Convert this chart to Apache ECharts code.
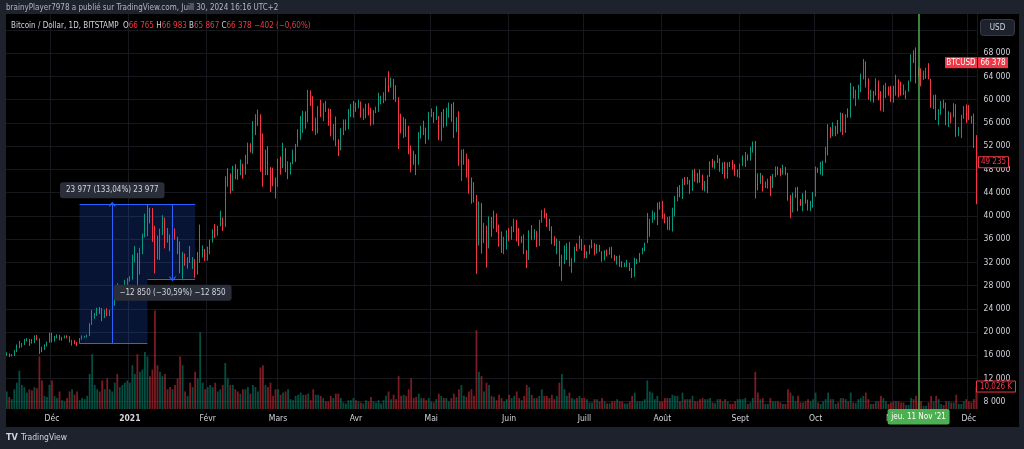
<!DOCTYPE html>
<html>
<head>
<meta charset="utf-8">
<title>BTCUSD 1D - BITSTAMP</title>
<script src="https://cdn.jsdelivr.net/npm/echarts@6/dist/echarts.min.js"></script>
<style>
	html, body { margin: 0; padding: 0; background: #1e222d; }
	#main { width: 1024px; height: 449px; }
</style>
</head>
<body>
<div id="main"></div>
<script>
// daily candles from 2020-11-13 to 2021-12-04, prices in thousands of USD
var firstDay = Date.UTC(2020, 10, 13);
var firstOpenK = 16.3;
var closeK = [
	16.3,15.96,15.96,16.72,17.66,17.8,17.82,18.68,18.72,18.42,18.37,19.16,18.73,17.15,17.14,17.73,18.18,19.7,
	18.79,19.22,19.45,18.7,19.15,19.36,19.17,18.32,18.55,18.25,18.03,18.8,19.17,19.27,19.43,21.36,22.8,23.13,23.85,23.48,22.72,23.82,23.25,23.72,24.7,26.48,26.28,27.08,27.37,28.88,28.99,
	29.4,32.2,33.0,31.97,33.99,36.82,39.45,40.67,40.24,38.24,35.54,34.01,37.39,39.15,36.82,36.03,35.79,36.63,36.07,35.55,30.82,33.0,32.09,32.29,32.26,32.5,30.4,33.43,34.3,34.3,33.12,
	33.54,35.52,37.67,36.94,38.3,39.24,38.9,46.4,46.49,44.85,47.99,47.4,47.19,48.72,47.97,49.16,52.15,51.6,55.9,55.9,57.5,54.2,48.9,49.7,47.1,46.3,46.2,45.2,
	49.6,48.4,50.5,48.4,48.8,48.9,51.2,52.4,54.9,55.9,57.8,57.2,61.2,59.0,55.6,56.9,58.9,57.6,58.3,58.1,57.4,54.1,54.3,52.3,51.3,55.0,55.8,55.8,57.6,58.8,58.8,
	58.7,59.0,57.1,58.2,59.1,58.0,56.0,58.1,58.1,59.8,59.8,59.9,63.5,62.9,63.2,61.4,60.0,56.2,55.7,56.5,53.8,51.7,51.1,50.1,49.1,54.0,55.0,54.8,53.6,57.7,
	57.8,56.6,57.2,53.2,57.5,56.4,57.4,58.9,58.3,55.9,56.8,49.5,49.7,49.9,46.7,46.4,43.6,42.9,36.7,40.6,37.3,37.5,34.7,38.8,38.3,39.3,38.4,35.7,34.6,35.7,37.3,
	36.7,37.6,39.2,36.9,35.5,35.8,33.6,33.4,37.4,36.7,37.3,35.5,39.0,40.5,40.2,38.3,38.1,35.8,35.5,35.6,31.6,32.5,33.7,34.7,31.6,32.2,34.7,34.5,35.9,35.0,
	33.5,33.8,34.7,35.3,33.7,34.2,33.9,32.9,33.8,33.5,34.3,33.1,32.7,32.8,31.8,31.4,31.5,31.8,30.8,29.8,32.1,32.3,33.6,34.3,35.4,37.3,39.5,40.0,40.0,42.2,41.5,
	39.9,39.2,38.2,39.7,40.9,42.8,44.6,43.8,46.3,45.6,45.6,44.4,47.8,47.1,47.0,45.9,44.7,44.7,46.8,49.3,48.9,49.3,49.5,47.7,48.9,47.0,49.0,48.9,48.8,47.0,47.1,
	48.8,49.3,50.0,49.9,51.7,52.7,46.9,46.1,46.4,44.9,45.2,46.1,44.9,47.1,48.2,47.8,47.3,48.3,47.3,43.0,40.7,43.6,44.9,42.9,42.7,43.2,42.2,41.0,41.5,43.8,
	48.1,47.7,48.2,49.2,51.5,55.3,53.8,53.9,55.0,54.7,57.5,56.0,57.4,57.3,61.7,60.9,61.5,62.0,64.3,66.0,62.2,60.7,61.3,60.9,63.1,60.3,58.4,60.6,62.3,61.8,61.3,
	61.0,63.2,62.9,61.4,61.0,61.5,63.3,67.5,66.9,64.9,64.8,64.1,64.4,65.5,63.6,60.1,60.4,56.9,58.1,59.7,58.7,56.3,57.6,57.2,58.9,53.7,54.7,57.3,57.8,57.0,
	56.9,56.5,53.6,49.235
];
var highK = [
	16.5,16.3,16.2,16.88,17.85,18.48,18.12,18.8,18.95,18.8,18.77,19.42,19.5,18.9,17.45,17.88,18.35,19.86,
	19.9,19.3,19.6,19.5,19.18,19.4,19.42,19.29,18.64,18.58,18.28,18.95,19.4,19.33,19.55,21.5,23.77,23.28,24.18,24.3,24.1,23.84,24.1,23.78,24.78,26.87,28.4,27.4,27.4,28.99,29.3,
	29.6,33.3,34.8,33.6,34.5,36.95,40.37,42.0,41.4,41.35,38.3,36.6,37.8,40.1,39.7,37.9,36.8,37.3,37.85,36.4,35.6,33.8,33.5,32.9,34.8,32.9,32.55,33.8,38.5,34.9,34.3,
	34.7,35.9,37.7,38.6,38.3,40.9,39.7,46.8,48.2,47.3,48.6,48.9,48.1,49.7,49.0,50.5,52.6,52.5,56.3,57.5,58.3,57.5,54.2,51.4,52.0,48.4,48.3,46.6,
	49.8,50.2,52.6,51.7,49.4,49.2,51.4,52.4,54.9,57.2,58.1,58.0,61.7,61.6,60.6,56.9,58.9,60.0,59.4,59.8,58.5,58.4,55.8,57.1,53.2,55.1,56.6,56.6,58.4,59.3,59.8,
	59.5,60.0,59.7,58.5,59.3,59.4,58.6,58.2,58.8,61.2,60.7,61.3,63.8,64.9,63.8,63.6,62.5,60.4,57.6,57.0,56.7,55.5,52.1,51.2,50.6,54.4,55.5,56.4,55.2,57.9,
	58.5,57.9,58.9,57.2,57.9,58.4,58.6,59.5,59.3,59.6,57.0,58.0,51.4,51.5,50.7,49.8,46.6,45.8,43.6,42.5,42.2,38.8,38.3,39.9,39.8,40.9,40.4,38.5,37.3,36.4,37.5,
	37.9,38.2,39.5,39.3,37.9,36.5,36.8,34.1,37.5,38.4,37.7,37.4,39.3,41.0,41.3,40.5,39.5,38.2,36.5,36.1,35.7,33.3,34.9,35.3,35.5,32.7,34.7,35.3,36.6,36.0,
	35.0,33.9,35.0,35.9,35.3,35.1,35.0,33.9,34.1,34.2,34.6,34.7,33.3,33.1,33.2,32.2,31.9,32.4,31.9,31.0,32.8,32.6,33.6,34.5,35.4,40.5,39.5,40.9,40.6,42.3,42.4,
	42.6,40.4,39.8,39.9,41.4,43.4,45.0,45.3,46.4,46.7,46.7,46.2,47.9,48.1,47.4,48.0,47.1,46.0,47.0,49.4,49.8,49.5,50.5,49.9,49.2,49.3,49.2,49.3,49.6,48.9,48.0,
	49.0,50.4,51.0,50.6,51.9,52.8,52.9,47.3,47.4,47.0,45.9,46.4,46.9,47.2,48.5,48.5,48.2,48.8,48.4,47.4,43.6,44.0,44.9,45.0,42.9,43.9,44.4,42.8,42.6,44.1,
	48.5,48.3,49.3,49.5,51.9,55.8,55.3,56.1,55.5,56.5,57.8,57.7,57.5,58.5,62.9,62.3,61.7,62.6,64.5,67.0,66.6,63.7,61.7,61.5,63.7,63.3,61.5,62.5,62.9,62.3,62.4,
	62.4,64.3,63.5,63.1,62.6,61.6,63.3,67.8,68.5,69.0,65.6,65.4,65.0,65.5,66.3,63.6,60.8,60.9,58.4,59.8,60.0,59.5,58.0,57.8,59.4,59.2,55.3,57.4,58.9,59.2,
	59.1,57.2,57.6,53.9
];
var lowK = [
	15.9,15.7,15.8,15.87,16.55,17.2,17.34,17.75,18.4,17.6,18.0,18.07,18.57,16.2,16.5,16.9,17.52,18.17,
	18.2,18.33,18.9,18.57,18.5,18.9,18.9,18.2,17.65,17.9,17.57,18.0,18.7,19.0,19.05,19.28,21.23,22.3,22.77,23.1,21.85,22.4,22.7,22.75,23.45,24.5,25.85,26.1,25.9,27.32,28.0,
	28.7,29.0,32.0,28.0,29.9,33.4,36.3,36.5,38.7,35.5,30.1,32.5,32.4,36.7,34.4,35.4,33.9,34.8,35.9,33.4,30.1,29.15,31.4,30.9,31.9,30.85,29.3,29.9,31.9,32.8,32.2,
	32.3,33.4,35.4,36.2,36.6,38.2,37.4,38.1,45.0,43.8,44.3,46.3,46.2,47.0,46.4,47.1,48.9,50.9,50.7,53.9,55.5,47.6,45.0,47.0,47.0,44.1,45.1,43.0,
	45.0,47.1,48.2,47.5,46.3,47.1,48.9,49.3,51.9,53.1,54.3,55.0,56.1,58.9,54.6,53.9,54.2,57.0,56.3,57.9,55.5,53.7,53.0,52.0,50.3,51.3,53.9,54.7,54.9,57.0,56.9,
	57.9,58.5,56.9,56.5,56.8,57.3,55.5,55.7,57.7,57.9,59.2,59.4,59.8,61.3,62.1,60.0,59.6,51.5,54.2,53.4,53.6,50.6,47.5,48.8,47.0,48.8,53.3,53.9,52.4,53.1,
	57.0,56.0,56.5,53.0,52.9,55.2,55.4,56.9,56.2,53.4,54.4,48.6,46.0,48.8,46.6,43.8,42.1,42.3,30.0,34.9,33.5,35.3,31.1,34.4,36.4,37.8,37.2,34.7,33.6,33.4,34.2,
	35.7,35.9,37.2,35.6,34.8,35.3,33.4,31.0,32.4,35.8,35.9,34.6,34.8,38.8,39.6,38.1,37.4,35.1,34.8,33.4,31.3,28.8,31.7,32.4,31.3,30.2,32.0,33.9,34.3,34.0,
	32.7,32.7,33.4,34.4,33.2,33.5,33.8,32.1,32.3,33.0,33.3,32.7,32.2,31.6,31.2,31.1,31.2,31.2,30.5,29.3,29.5,31.7,32.0,33.4,33.9,35.3,36.4,38.8,39.3,38.4,41.1,
	39.5,38.7,37.6,37.5,37.3,39.9,42.5,43.2,42.9,45.3,45.4,43.8,44.3,45.9,45.6,45.7,44.4,44.2,43.9,46.7,48.3,48.1,49.1,47.6,47.2,46.4,46.4,48.4,48.0,46.9,46.7,
	46.5,48.6,48.4,49.5,49.5,50.9,43.0,44.4,45.5,44.2,44.8,44.7,43.4,44.8,46.7,47.0,46.8,47.1,47.0,42.6,39.6,40.6,43.1,40.8,41.7,40.8,42.1,40.9,40.8,41.4,
	43.3,47.4,47.1,46.9,49.1,50.4,53.4,53.7,53.7,54.1,54.4,53.9,54.3,56.9,56.9,60.2,58.9,60.1,61.3,63.5,62.1,60.0,59.7,59.5,60.7,59.9,58.1,57.9,60.3,60.7,59.6,
	59.5,60.7,60.4,60.7,60.8,60.1,61.4,63.1,66.3,62.8,64.1,62.3,63.4,63.6,63.5,58.6,58.4,56.5,55.6,57.4,58.5,55.6,55.3,55.9,57.0,53.6,53.7,53.4,56.7,56.0,
	56.5,55.9,51.7,42.0
];
// volume, thousands of BTC
var volK = [
	8.0,5.5,4.5,9.0,12.0,17.5,11.0,10.0,7.5,9.0,8.5,10.0,9.5,24.0,13.0,6.0,5.5,11.0,
	13,6,5,8,4,3.5,5,8,9,6.5,8,4,5,4.5,6,16,25,11,9,8,13,9,14,9,8,12,16,10,11,12,13,
	12,20,16,25,17,18,26,24,15,18,45,20,17,15,16,9,10,9,11,14,24,20,8,6,12,10,17,14,35,12,9,
	10,11,10,12,8,9,11,21,14,11,11,9,8,7,9,9,10,7,11,10,8,19,20,11,10,12,6,9,
	9,6.5,7.5,8,9,4.5,4,6,6.5,7.5,6.5,6.5,7,4,9,6.5,6.5,6,5,3.5,3.5,6,5,7,7,5,3,2.5,4,4,5,
	4,3.5,3,2.5,4,3.5,5.5,3.5,3,4,2.5,4,6,8,4.5,6.5,4.5,15,6,6.5,6,9,14,5,5.5,7,5,5,4,5,
	3.5,3,4.5,7,6,5,5,3.5,5,7,5.5,9,11,6,5.5,8,9,6,36,17,15,8,12,11,6,5.5,4,6.5,5,3.5,4.5,
	6.5,5,6,8,5,4,6,11,10,6.5,5,5,6,9,6,6,5,6.5,4.5,6,12,16,9,6,7.5,5,4.5,5,6,5,
	5,4.5,3,3,4.5,4.5,3.5,5,3.5,2.5,2.5,3.5,3.5,4.5,3.5,3.5,2.5,2.5,3.5,6,7.5,3.5,3.5,3.5,4.5,13,8,7.5,4.5,6,3.5,
	3.5,5,5,5,6.5,6,6,3.5,7.5,4.5,4.5,4.5,6,3.5,3.5,4.5,5,4.5,4.5,5,3,2.7,4.5,4.5,3.5,4.5,3.5,2.3,2.3,3.5,4.5,
	4.5,4.5,5,2.3,3,5,17,7.5,4.5,5,2.3,2.3,5,3.5,3.5,3.5,3,2.3,2.3,9,7.5,6,3.5,6,3,3,3.5,4.5,3.5,4.5,
	7.5,3,2.3,3.5,4.5,7.5,4.5,4.5,2.3,3,5,5,4.5,3.5,7.5,3,2.7,4.5,5,6,7.5,4.5,2.3,2.3,3.5,3.5,6,5,3.5,2.3,3,
	3.5,3.5,3.5,3,3,1.8,1.8,5,4.5,6,3,3.5,1.5,1.5,3,6,3.5,6,4.5,2.3,1.8,3.5,3.5,3,3,6.5,2.3,2.3,3.5,4.5,
	3.5,3,4.5,10.026
];

var monthNames = ['Janv', 'Févr', 'Mars', 'Avr', 'Mai', 'Juin', 'Juill', 'Août', 'Sept', 'Oct', 'Nov', 'Déc'];

// measure tool: box edges (dates), prices [base, peak, trough]
var boxDates = ['2020-12-12', '2021-01-08', '2021-01-27'];
var boxPrices = [18023, 42000, 29150];
var arrowDates = ['2020-12-25', '2021-01-18'];
var boxLabels = ['23 977 (133,04%) 23 977', '\u221212 850 (\u221230,59%) \u221212 850'];

// crosshair and header values
var crossDate = '2021-11-11';
var crossLabel = "jeu. 11 Nov '21";
var legendOHLC = [66765, 66983, 65867, 66378];
var legendChange = '\u2212402 (\u22120,60%)';
var lastClose = 49235;
var lastVolK = 10.026;

var FONT = "'Liberation Sans Narrow', 'DejaVu Sans Condensed', Roboto, sans-serif";
var UP = '#089981', DOWN = '#f23645';
var FRAME = '#1e222d', TXT = '#d1d4dc', GRIDC = '#16181d';

function fmt(v) {
	return String(Math.round(v)).replace(/\B(?=(\d{3})+(?!\d))/g, ' ');
}

function isMonthStart(idx, val) {
	return val.slice(8) === '01';
}

var chart;

function init() {
	chart = echarts.init(document.getElementById('main'));
	var built = buildData();
	chart.setOption(buildOption(built));
	addOverlays();
}

// dates, candles, volume bars
function buildData() {
	var dates = [], candles = [], volumes = [];
	for (var i = 0; i < closeK.length; i++) {
		dates.push(new Date(firstDay + i * 864e5).toISOString().slice(0, 10));
		// 24/7 market: each day opens at the previous close
		var o = i === 0 ? firstOpenK : closeK[i - 1];
		candles.push([o * 1000, closeK[i] * 1000, lowK[i] * 1000, highK[i] * 1000]);
		volumes.push({
			value: volK[i],
			itemStyle: { color: closeK[i] >= o ? 'rgba(8,153,129,0.5)' : 'rgba(242,54,69,0.5)' }
		});
	}
	return { dates: dates, candles: candles, volumes: volumes };
}

function buildOption(b) {
	var lbl = function(text) {
		return {
			show: true, position: 'end', formatter: text, distance: 6,
			color: TXT, fontSize: 8, fontFamily: FONT,
			backgroundColor: '#2a2e39', padding: [4, 6], borderRadius: 3
		};
	};
	var chevron = 'path://M4,0 L8,6 L7,7 L4,2.6 L1,7 L0,6 Z';
	var rangeLine = { color: '#2962ff', width: 1, type: 'solid' };

	return {
		animation: false,
		backgroundColor: '#000',
		textStyle: { fontFamily: FONT },
		title: {
			left: 11, top: 21.5, padding: 0,
			text: '{t|Bitcoin / Dollar, 1D, BITSTAMP}  {k|O}{v|' + fmt(legendOHLC[0]) + '} {k|H}{v|' + fmt(legendOHLC[1]) +
				'} {k|B}{v|' + fmt(legendOHLC[2]) + '} {k|C}{v|' + fmt(legendOHLC[3]) + '} {v|' + legendChange + '}',
			textStyle: {
				fontSize: 8, fontWeight: 'normal',
				rich: {
					t: { color: TXT, fontSize: 8, fontFamily: FONT },
					k: { color: TXT, fontSize: 8, fontFamily: FONT },
					v: { color: DOWN, fontSize: 8, fontFamily: FONT }
				}
			}
		},
		grid: [
			{ left: 5.5, right: 46.4, top: 6.8, bottom: 24.1 },
			{ left: 5.5, right: 46.4, top: 309, bottom: 40 }
		],
		xAxis: [{
			type: 'category', data: b.dates, gridIndex: 0,
			axisLine: { show: false }, axisTick: { show: false }, axisLabel: { show: false },
			splitLine: { show: true, interval: isMonthStart, lineStyle: { color: GRIDC, width: 1 } }
		}, {
			type: 'category', data: b.dates, gridIndex: 1, z: 60,
			axisLine: { show: false }, axisTick: { show: false },
			axisLabel: {
				interval: isMonthStart, margin: 5, color: TXT, fontSize: 8.5,
				formatter: function(v) {
					var m = +v.slice(5, 7);
					return m === 1 ? '{y|' + v.slice(0, 4) + '}' : monthNames[m - 1];
				},
				rich: { y: { fontWeight: 'bold', color: TXT, fontSize: 8.5, fontFamily: FONT } }
			},
			splitLine: { show: false }
		}],
		yAxis: [{
			type: 'value', gridIndex: 0, position: 'right',
			min: 4000, max: 76000, interval: 4000,
			axisLine: { show: false }, axisTick: { show: false },
			axisLabel: {
				color: TXT, fontSize: 8.5, margin: 6,
				formatter: function(v) {
					return (v <= 4000 || v >= 72000) ? '' : fmt(v);
				}
			},
			splitLine: { show: true, showMinLine: false, showMaxLine: false, lineStyle: { color: GRIDC, width: 1 } }
		}, {
			type: 'value', gridIndex: 1, min: 0, max: 45.66, show: false,
			splitLine: { show: false }
		}],
		series: [{
			name: 'Volume', type: 'bar', xAxisIndex: 1, yAxisIndex: 1, z: 1,
			barWidth: '72%', data: b.volumes
		}, {
			name: 'BTCUSD', type: 'candlestick', xAxisIndex: 0, yAxisIndex: 0, z: 3,
			barWidth: 1.2, data: b.candles,
			itemStyle: { color: UP, color0: DOWN, borderColor: UP, borderColor0: DOWN, borderWidth: 1 },
			markLine: {
				silent: true, symbol: 'none', symbolSize: [7, 5],
				label: { show: false },
				lineStyle: rangeLine,
				data: [
					[{ coord: [boxDates[0], boxPrices[1]] }, { coord: [boxDates[2], boxPrices[1]] }],
					[{ coord: [boxDates[0], boxPrices[0]] }, { coord: [boxDates[1], boxPrices[0]] }],
					[{ coord: [boxDates[1], boxPrices[2]] }, { coord: [boxDates[2], boxPrices[2]] }],
					[{ coord: [arrowDates[0], boxPrices[0]], label: lbl(boxLabels[0]) },
						{ coord: [arrowDates[0], boxPrices[1]], symbol: chevron }],
					[{ coord: [arrowDates[1], boxPrices[1]], label: lbl(boxLabels[1]) },
						{ coord: [arrowDates[1], boxPrices[2]], symbol: chevron }],
					{ xAxis: crossDate, lineStyle: { color: '#4caf50', width: 1.5, type: 'solid' } }
				]
			}
		}]
	};
}

// measure area, frame, price tags, crosshair label, footer
function addOverlays() {
	var toPx = function(d, v) {
		return chart.convertToPixel({ seriesIndex: 1 }, [d, v]);
	};
	var yClose = chart.convertToPixel({ yAxisIndex: 0 }, lastClose);
	var yLeg = chart.convertToPixel({ yAxisIndex: 0 }, legendOHLC[3]);
	var yVol = chart.convertToPixel({ yAxisIndex: 1 }, lastVolK);
	var xCross = chart.convertToPixel({ xAxisIndex: 0 }, crossDate);

	var rect = function(x, y, w, h, fill, z, extra) {
		var el = { type: 'rect', silent: true, z: z || 100, shape: { x: x, y: y, width: w, height: h, r: extra && extra.r || 0 },
			style: { fill: fill } };
		if (extra && extra.stroke) { el.style.stroke = extra.stroke; el.style.lineWidth = 1; }
		return el;
	};
	var text = function(x, y, str, color, opt) {
		opt = opt || {};
		return { type: 'text', silent: true, z: opt.z || 101, x: x, y: y,
			style: { text: str, fill: color, fontSize: opt.size || 8.5, fontFamily: FONT,
				fontWeight: opt.bold ? 'bold' : 'normal',
				align: opt.align || 'left', verticalAlign: 'middle' } };
	};

	// both measure boxes as one L-shaped fill
	var areaPts = [
		toPx(boxDates[0], boxPrices[1]),
		toPx(boxDates[2], boxPrices[1]),
		toPx(boxDates[2], boxPrices[2]),
		toPx(boxDates[1], boxPrices[2]),
		toPx(boxDates[1], boxPrices[0]),
		toPx(boxDates[0], boxPrices[0])
	];

	var g = [
		{ type: 'polygon', silent: true, z: 2, shape: { points: areaPts }, style: { fill: 'rgba(41,98,255,0.2)' } },
		// time axis row
		rect(6, 409, 1013, 18, '#000', 50),
		// outer frame
		rect(0, 0, 1024, 14, FRAME),
		rect(0, 427, 1024, 22, FRAME),
		rect(0, 0, 6, 449, FRAME),
		rect(1019, 0, 5, 449, FRAME),
		text(6, 7.5, 'brainyPlayer7978 a publi\u00e9 sur TradingView.com, Juill 30, 2024 16:16 UTC+2', '#b2b5be', { size: 8 }),
		text(6, 438, 'TV', TXT, { bold: true, size: 9 }),
		text(21, 438, 'TradingView', TXT, { size: 8.5 }),
		// currency button
		rect(980.5, 19.5, 34, 16, FRAME, 100, { r: 3, stroke: '#363a45' }),
		text(997.5, 27.5, 'USD', TXT, { align: 'center', size: 8 }),
		// last price tags
		rect(945, yLeg - 5.5, 32, 11, DOWN),
		text(961, yLeg, 'BTCUSD', '#fff', { align: 'center', size: 8 }),
		rect(978, yLeg - 5.5, 30, 11, DOWN),
		text(993, yLeg, fmt(legendOHLC[3]), '#fff', { align: 'center', size: 8 }),
		rect(978.5, yClose - 5.5, 30, 11, '#000', 100, { stroke: DOWN }),
		text(993.5, yClose, fmt(lastClose), DOWN, { align: 'center', size: 8 }),
		rect(976.5, yVol - 6, 39, 11, '#000', 100, { stroke: DOWN }),
		text(996, yVol - 0.5, String(lastVolK).replace('.', ',') + ' K', DOWN, { align: 'center', size: 8 }),
		// crosshair date
		rect(xCross - 31, 409, 62, 15.5, '#4caf50', 100, { r: 2 }),
		text(xCross, 417, crossLabel, '#fff', { align: 'center', size: 8 })
	];
	chart.setOption({ graphic: g });
}

init();
</script>
</body>
</html>
